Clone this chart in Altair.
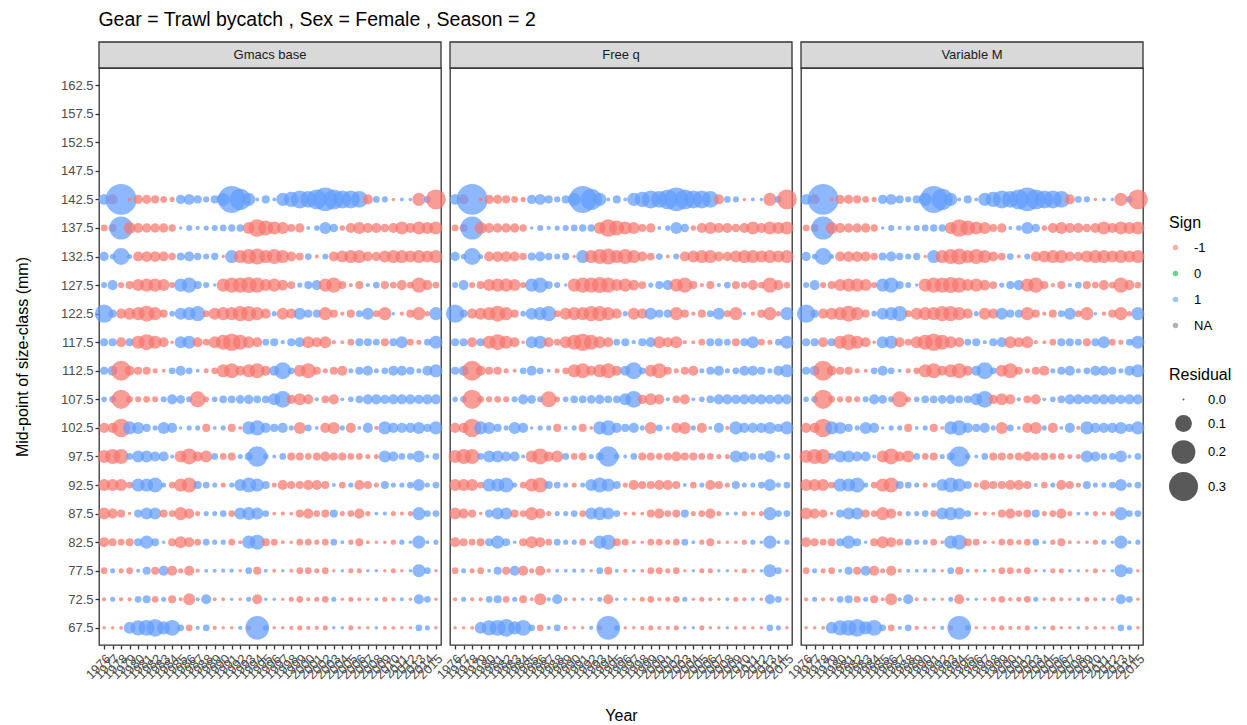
import altair as alt
import pandas as pd

FONT = "Liberation Sans"

years = [str(y) for y in range(1976, 2016)]
size_levels = ["162.5", "157.5", "152.5", "147.5", "142.5", "137.5", "132.5", "127.5",
               "122.5", "117.5", "112.5", "107.5", "102.5", "97.5", "92.5", "87.5",
               "82.5", "77.5", "72.5", "67.5"]
models = ["Gmacs base", "Free q", "Variable M"]
sign_levels = ["-1", "0", "1", "NA"]
sign_colors = ["#F8766D", "#00BA38", "#619CFF", "#7F7F7F"]
legend_sizes = [0.0, 0.1, 0.2, 0.3]

# signed residuals by size class, years 1976..2015
r142_5 = [0.04, -0.035, 0.34, -0.004, -0.03, -0.028, -0.022, -0.015, -0.008, 0.03,
          0.04, 0.022, 0.012, 0.022, 0.06, 0.26, 0.16, 0.06, 0.004, 0.022,
          0.004, 0.06, 0.08, 0.115, 0.1, 0.14, 0.2, 0.14, 0.115, 0.115,
          0.1, -0.035, 0.015, 0.012, -0.003, 0.004, 0.003, -0.06, 0.015, -0.14]
r137_5 = [-0.015, -0.022, 0.19, -0.05, -0.035, -0.03, -0.03, -0.03, -0.018, 0.003,
          0.012, 0.005, 0.008, 0.012, 0.015, 0.018, 0.018, -0.05, -0.11, -0.08,
          -0.06, -0.05, -0.02, -0.03, 0.004, 0.01, 0.05, 0.025, -0.01, -0.035,
          -0.05, -0.035, -0.035, -0.025, -0.035, -0.06, -0.035, -0.06, -0.05, -0.06]
r132_5 = [0.03, 0.01, 0.1, 0.008, -0.035, -0.04, -0.04, -0.035, -0.018, 0.022,
          0.035, 0.018, 0.012, 0.018, -0.003, 0.06, -0.06, -0.08, -0.09, -0.06,
          -0.08, -0.06, -0.035, -0.02, 0.015, -0.004, 0.012, -0.035, -0.05, -0.06,
          -0.06, -0.035, -0.03, -0.05, -0.06, -0.06, -0.05, -0.06, -0.05, -0.06]
r127_5 = [0.012, 0.035, -0.012, -0.022, -0.05, -0.06, -0.06, -0.05, -0.012, 0.06,
          0.08, 0.022, 0.012, 0.003, -0.06, -0.08, -0.08, -0.09, -0.08, -0.05,
          -0.06, -0.04, -0.02, 0.008, 0.022, 0.035, -0.06, -0.08, -0.022, -0.005,
          -0.022, 0.005, 0.015, -0.022, -0.015, -0.035, -0.015, -0.08, -0.035, -0.015]
r122_5 = [0.12, 0.022, -0.035, -0.05, -0.06, -0.09, -0.06, -0.022, 0.01, 0.05,
          0.06, 0.08, -0.015, -0.05, -0.06, -0.06, -0.08, -0.08, -0.06, -0.035,
          0.008, -0.05, -0.035, 0.05, 0.022, 0.022, -0.06, -0.022, -0.005, -0.022,
          0.015, 0.05, -0.015, -0.06, 0.003, -0.005, -0.022, -0.06, -0.008, 0.06]
r117_5 = [0.022, 0.022, -0.035, 0.022, -0.06, -0.09, -0.06, -0.035, -0.003, 0.05,
          0.06, -0.035, -0.015, -0.05, -0.08, -0.11, -0.08, -0.05, -0.035, 0.015,
          0.022, 0.005, 0.022, 0.035, -0.05, -0.035, -0.05, -0.005, -0.004, -0.015,
          0.022, 0.022, 0.015, -0.022, 0.022, 0.05, -0.015, -0.008, 0.015, 0.06]
r112_5 = [0.022, 0.035, -0.14, -0.035, -0.022, -0.022, -0.008, -0.004, 0.015, 0.035,
          0.015, 0.004, -0.008, -0.015, -0.06, -0.08, -0.035, -0.06, -0.08, -0.035,
          0.035, 0.1, 0.015, -0.05, -0.08, -0.022, -0.008, -0.022, -0.035, 0.008,
          0.022, 0.035, 0.008, 0.015, 0.035, 0.035, 0.022, 0.008, 0.035, 0.06]
r107_5 = [0.01, 0.015, -0.13, -0.015, -0.012, -0.015, -0.012, 0.012, 0.035, 0.025,
          0.012, -0.09, -0.01, 0.01, 0.02, 0.02, 0.025, 0.03, 0.02, 0.02,
          0.05, 0.1, -0.03, -0.05, -0.035, 0.005, -0.02, -0.035, 0.004, 0.01,
          0.02, 0.035, 0.035, 0.03, 0.035, 0.035, 0.035, 0.03, 0.035, 0.035]
r102_5 = [-0.035, -0.035, -0.12, 0.06, 0.05, 0.022, 0.008, 0.05, 0.035, 0.003,
          0.008, 0.008, -0.022, 0.004, 0.008, -0.022, -0.004, 0.06, 0.08, 0.035,
          0.022, 0.035, 0.008, -0.05, 0.015, 0.004, -0.035, -0.05, 0.008, -0.035,
          0.004, 0.035, -0.005, 0.06, 0.035, 0.035, 0.035, 0.05, 0.022, 0.06]
r97_5 = [-0.06, -0.08, -0.08, 0.015, 0.05, 0.05, 0.035, 0.035, 0.004, -0.05,
         -0.09, -0.035, -0.05, 0.015, -0.015, -0.022, 0.008, 0.022, 0.15, 0.01,
         0.004, 0.015, -0.022, -0.022, -0.015, -0.022, -0.035, -0.022, -0.022, -0.015,
         -0.015, -0.008, -0.008, 0.05, 0.035, 0.015, 0.015, 0.05, 0.004, 0.015]
r92_5 = [-0.05, -0.05, -0.05, -0.015, 0.06, 0.06, 0.08, 0.008, -0.015, -0.06,
         -0.08, 0.022, 0.015, 0.008, -0.008, 0.008, 0.05, 0.08, 0.06, 0.022,
         -0.008, -0.035, -0.022, -0.022, -0.035, -0.035, -0.022, 0.004, -0.015, 0.008,
         -0.035, -0.022, -0.008, 0.022, 0.008, 0.008, 0.015, 0.05, 0.008, 0.015]
r87_5 = [-0.05, -0.035, -0.022, -0.003, 0.022, 0.05, 0.05, -0.022, -0.015, -0.06,
         -0.035, -0.008, 0.008, 0.008, 0.015, -0.015, 0.05, 0.06, 0.05, 0.015,
         -0.004, -0.005, -0.004, -0.022, -0.035, -0.015, -0.022, 0.022, -0.008, -0.015,
         -0.035, -0.008, 0.004, 0.005, -0.008, -0.005, -0.008, 0.06, 0.015, 0.015]
r82_5 = [-0.035, -0.022, -0.015, -0.022, 0.022, 0.06, 0.022, 0.003, -0.022, -0.05,
         -0.035, -0.015, 0.015, 0.008, 0.008, -0.015, -0.004, 0.06, 0.08, -0.022,
         -0.015, -0.004, -0.003, -0.015, -0.015, -0.008, -0.015, 0.015, 0.004, -0.008,
         -0.022, -0.004, -0.003, -0.003, -0.008, 0.008, 0.003, 0.06, 0.004, 0.008]
r77_5 = [-0.015, 0.008, -0.008, -0.015, 0.004, 0.022, -0.022, 0.035, -0.035, -0.008,
         -0.035, -0.005, 0.004, 0.004, 0.005, 0.005, -0.003, 0.015, -0.022, 0.004,
         -0.004, 0.003, -0.004, -0.015, -0.015, -0.008, -0.015, -0.003, 0.003, -0.008,
         -0.008, 0.003, 0.003, -0.003, -0.008, -0.003, 0.003, 0.06, 0.015, -0.003]
r72_5 = [-0.005, 0.008, -0.005, -0.005, 0.015, 0.022, -0.015, 0.008, -0.022, -0.004,
         -0.05, 0.005, 0.035, -0.004, -0.004, 0.003, -0.003, 0.008, -0.035, 0.003,
         0.003, -0.003, -0.008, -0.015, -0.005, -0.008, -0.015, 0.008, -0.003, -0.008,
         -0.005, -0.003, 0.004, -0.008, -0.005, 0.004, -0.003, 0.035, 0.015, -0.003]
r67_5 = [-0.003, -0.003, -0.004, 0.05, 0.08, 0.09, 0.11, 0.06, 0.09, 0.015,
         -0.015, 0.005, 0.015, -0.005, -0.003, -0.003, 0.005, -0.008, 0.2, 0.01,
         -0.003, -0.003, -0.005, -0.008, -0.005, -0.005, -0.008, 0.003, 0.003, -0.008,
         -0.003, -0.003, 0.003, -0.004, -0.004, -0.003, -0.003, 0.015, 0.008, -0.003]

rows_by_class = {
    "142.5": r142_5, "137.5": r137_5, "132.5": r132_5, "127.5": r127_5,
    "122.5": r122_5, "117.5": r117_5, "112.5": r112_5, "107.5": r107_5,
    "102.5": r102_5, "97.5": r97_5, "92.5": r92_5, "87.5": r87_5,
    "82.5": r82_5, "77.5": r77_5, "72.5": r72_5, "67.5": r67_5,
}

records = []
for m in models:
    for cls, vals in rows_by_class.items():
        for yr, v in zip(years, vals):
            records.append({"Model": m, "Year": yr, "Size": cls,
                            "Residual": abs(v), "Sign": "1" if v > 0 else "-1"})
df = pd.DataFrame(records)

W, H = 342, 577


def panel(model, first, middle):
    y_axis = alt.Axis(title="Mid-point of size-class (mm)", labelPadding=2, titlePadding=30) if first \
        else alt.Axis(title=None, labels=False, ticks=False)
    pts = alt.Chart(df).transform_filter(alt.datum.Model == model).mark_circle(opacity=0.72).encode(
        x=alt.X("Year:O", scale=alt.Scale(type="point", padding=0.6, domain=years),
                axis=alt.Axis(title="Year" if middle else None, labelAngle=-45, labelAlign="right",
                              labelBaseline="top", labelOverlap=False, labelFlush=False,
                              labelBound=False, labelPadding=3, titlePadding=26)),
        y=alt.Y("Size:O", scale=alt.Scale(type="point", padding=0.6, domain=size_levels), axis=y_axis),
        color=alt.Color("Sign:N", scale=alt.Scale(domain=sign_levels, range=sign_colors),
                        legend=alt.Legend(title="Sign", orient="none", legendX=1070, legendY=147,
                                          symbolType="circle", symbolSize=30, symbolOpacity=0.6,
                                          rowPadding=12, titlePadding=10, labelOffset=12)),
        size=alt.Size("Residual:Q", scale=alt.Scale(domain=[0, 0.3], range=[4, 841]),
                      legend=alt.Legend(title="Residual", orient="none", legendX=1070, legendY=299,
                                        values=legend_sizes, format=".1f", symbolFillColor="#000000",
                                        symbolStrokeWidth=0, symbolOpacity=0.65, rowPadding=8,
                                        titlePadding=10, labelOffset=10)),
    )
    sdf = pd.DataFrame({"Model": [model]})
    strip = alt.Chart(sdf).mark_rect(fill="#D9D9D9", stroke="#333333", strokeWidth=1.3).encode(
        x=alt.value(0), x2=alt.value(W), y=alt.value(-26), y2=alt.value(0))
    txt = alt.Chart(sdf).mark_text(font=FONT, fontSize=13, color="#1A1A1A", baseline="middle").encode(
        x=alt.value(W / 2), y=alt.value(-13), text="Model:N")
    return alt.layer(pts, strip, txt).properties(width=W, height=H)


chart = alt.hconcat(
    panel(models[0], True, False),
    panel(models[1], False, True),
    panel(models[2], False, False),
    spacing=9,
    bounds="flush",
).resolve_scale(color="shared", size="shared").properties(
    title=alt.TitleParams(text="Gear = Trawl bycatch , Sex = Female , Season = 2", anchor="start",
                          dx=84.6, fontSize=19.5, font=FONT, fontWeight="normal", color="#000000",
                          offset=10),
    padding={"left": 5, "top": 2, "right": 5, "bottom": 5},
).configure_view(stroke="#333333", strokeWidth=1.3).configure_axis(
    gridColor="#EBEBEB", gridWidth=1.5, domain=False, tickColor="#333333", tickSize=4, tickWidth=1.3,
    labelColor="#4D4D4D", labelFontSize=13, labelFont=FONT, titleFont=FONT, titleFontSize=16,
    titleFontWeight="normal", titleColor="#000000",
).configure_legend(
    labelFont=FONT, titleFont=FONT, labelFontSize=13, titleFontSize=16, titleFontWeight="normal",
    labelColor="#000000", titleColor="#000000",
)

chart.save("out.html", embed_options={"renderer": "svg", "actions": False})
